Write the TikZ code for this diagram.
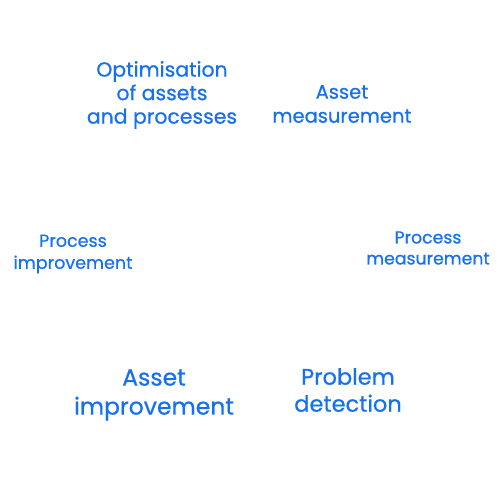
\documentclass[tikz,border=0pt]{standalone}
\usepackage{fontspec}
\setmainfont{Poppins}[FakeBold=0.6]
\definecolor{lblue}{HTML}{1570F2}
\begin{document}
\begin{tikzpicture}[x=1pt,y=-1pt,
  lbl/.style={text=lblue,align=center,inner sep=0pt}]
\useasboundingbox[fill=white] (0,0) rectangle (500,499);
\node[lbl,font=\fontsize{20.4}{23.5}\selectfont] (opt) at (162,95) {Optimisation\\of assets\\and processes};
\node[lbl,font=\fontsize{19.5}{24}\selectfont] (am) at (342,104) {Asset\\measurement};
\node[lbl,font=\fontsize{17.5}{22}\selectfont] (pi) at (73,254) {Process\\improvement};
\node[lbl,font=\fontsize{17.3}{21}\selectfont] (pm) at (428,248) {Process\\measurement};
\node[lbl,font=\fontsize{23.5}{29}\selectfont] (ai) at (154,395) {Asset\\improvement};
\node[lbl,font=\fontsize{22.5}{27}\selectfont] (pd) at (348,390) {Problem\\detection};
\end{tikzpicture}
\end{document}
